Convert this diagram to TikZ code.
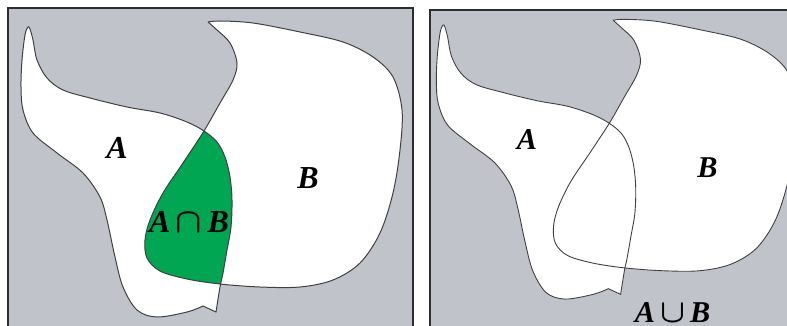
\documentclass[tikz,border=0pt]{standalone}
\usepackage{amsmath}
\usepackage{fontspec}
\setmainfont{Liberation Serif}
\usepackage{xcolor}
\usetikzlibrary{positioning}

\definecolor{panelgray}{RGB}{192,196,202}
\definecolor{capgreen}{RGB}{0,166,81}
\definecolor{framegray}{RGB}{45,45,48}

% the two sets, in pixel units (y down)
\newcommand{\shapeA}{plot[smooth,tension=0.55] coordinates {(216,312) (220,287) (223,273) (227,250) (231,227) (232,200) (230,177) (225,157) (217,142) (204,131) (187,122) (160,113) (127,107) (90,98) (63,90) (47,78) (37,60) (33,40) (30,29) (28,27) (25,35) (22,60) (21,87) (23,110) (33,133) (57,153) (83,173) (100,197) (107,220) (115,257) (123,287) (137,310) (157,317) (187,312) (203,306)} -- cycle}
\newcommand{\shapeB}{plot[smooth,tension=0.55] coordinates {(208,22) (220,21) (253,23) (300,32) (343,42) (373,57) (393,77) (402,110) (400,150) (393,193) (380,233) (360,263) (333,280) (300,287) (260,287) (220,284) (187,279) (160,271) (147,258) (145,240) (150,220) (163,193) (183,163) (204,131) (220,103) (233,80) (237,63) (230,43) (217,30) (208,22)}}

\tikzset{
  panel/.style={fill=panelgray,draw=framegray,line width=1pt},
  setline/.style={draw=black!75,line width=0.5pt},
  setlabel/.style={font=\fontsize{16}{18}\selectfont\bfseries\itshape,inner sep=0pt}
}

\begin{document}
\begin{tikzpicture}[x=0.5pt,y=-0.5pt]
	\useasboundingbox (0,0) rectangle (787,326);
	\clip (0,0) rectangle (787,326);

	% intersection
	\path[panel] (8,8) rectangle (413,345);
	\fill[white] \shapeA;
	\fill[white] \shapeB;
	\begin{scope}
		\clip \shapeA;
		\fill[capgreen] \shapeB;
	\end{scope}
	\draw[setline] \shapeA;
	\draw[setline] \shapeB;
	\node[setlabel] (labA) at (117,148) {A};
	\node[setlabel] (labB) at (308,178) {B};
	\node[setlabel] (labAcapB) at (189,222) {A\,$\boldsymbol{\cap}$\,B};

	% union
	\path[panel] (430,10) rectangle (800,345);
	\begin{scope}[shift={(416.5,-0.5)},scale=0.945]
		\fill[white] \shapeA;
		\fill[white] \shapeB;
		\draw[setline,line width=0.45pt] \shapeA;
		\draw[setline,line width=0.45pt] \shapeB;
		\node[setlabel,scale=0.945] (labA2) at (117,148) {A};
		\node[setlabel,scale=0.945] (labB2) at (308,178) {B};
		\node[setlabel,scale=0.945] (labAcupB) at (271,331) {A\,$\boldsymbol{\cup}$\,B};
	\end{scope}
\end{tikzpicture}
\end{document}
